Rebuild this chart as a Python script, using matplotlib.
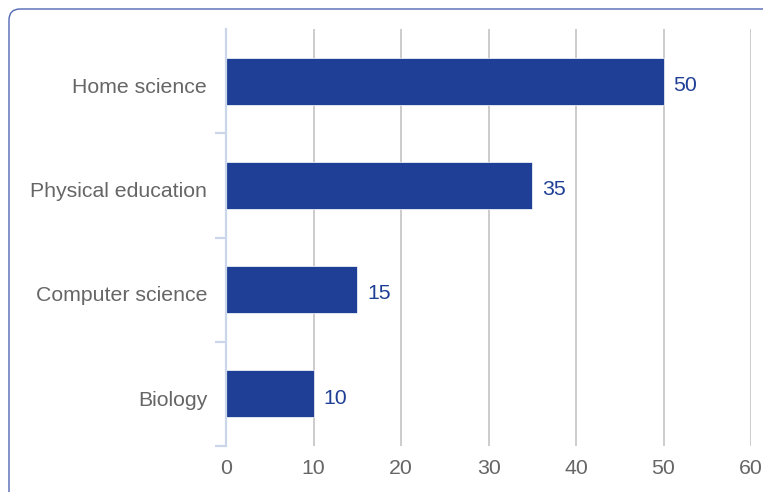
import matplotlib.pyplot as plt
import matplotlib.transforms as mtransforms
from matplotlib.patches import FancyBboxPatch

plt.rcParams['font.family'] = ['Liberation Sans', 'DejaVu Sans']

subjects = ['Biology', 'Computer science', 'Physical education', 'Home science']
students = [10, 15, 35, 50]
x_ticks = [0, 10, 20, 30, 40, 50, 60]

bar_color = '#1f3f96'
text_color = '#666666'
axis_color = '#ccd6eb'
grid_color = '#c8c8c8'

fig = plt.figure(figsize=(7.63, 4.92), dpi=100)
W, H = 763, 492
ax = fig.add_axes([226 / W, (H - 446) / H, (751 - 226) / W, (446 - 29) / H])

# card frame, rounded top-left, runs off the right and bottom edges
card = FancyBboxPatch((9, -40), 900, H - 9 + 40, boxstyle='round,pad=0,rounding_size=11',
                      transform=mtransforms.IdentityTransform(), fill=False,
                      edgecolor='#5068b3', linewidth=1.0)
fig.patches.append(card)

ypos = list(range(len(subjects)))
bars = ax.barh(ypos, students, height=0.45, color=bar_color, edgecolor='white',
               linewidth=0.5, zorder=3)
for y, v in zip(ypos, students):
    ax.annotate(str(v), (v, y), xytext=(7, -3), textcoords='offset points',
                va='center', ha='left', fontsize=15.3, color=bar_color)

ax.set_xlim(0, 60)
ax.set_ylim(-0.5, 3.5)
ax.set_xticks(x_ticks)
ax.set_yticks(ypos)
ax.set_yticklabels(subjects)
ax.set_yticks([-0.5, 0.5, 1.5, 2.5], minor=True)

ax.grid(axis='x', color=grid_color, linewidth=1.3, zorder=0)
ax.set_axisbelow(True)

for s in ['top', 'right', 'bottom']:
    ax.spines[s].set_visible(False)
ax.spines['left'].set_color(axis_color)
ax.spines['left'].set_linewidth(1.6)
ax.spines['left'].set_zorder(4)

ax.tick_params(axis='x', length=0, pad=9, labelsize=15.3, labelcolor=text_color)
ax.tick_params(axis='y', which='major', length=0, pad=13.5, labelsize=15.3, labelcolor=text_color)
ax.tick_params(axis='y', which='minor', length=8, width=1.6, color=axis_color)

# nudge category labels down a little, like the reference
shift = mtransforms.ScaledTranslation(0, -3 / 72, fig.dpi_scale_trans)
for lbl in ax.get_yticklabels():
    lbl.set_transform(lbl.get_transform() + shift)

fig.savefig('out.png', dpi=100)
